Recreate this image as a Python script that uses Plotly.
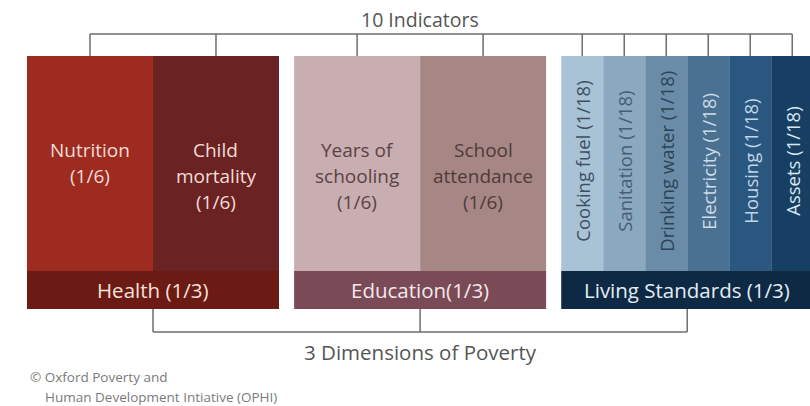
import plotly.graph_objects as go

# ---------------- data ----------------
dimensions = ["Health (1/3)", "Education(1/3)", "Living Standards (1/3)"]
dimension_weights = [1/3, 1/3, 1/3]

indicators = ["Nutrition", "Child mortality", "Years of schooling", "School attendance",
              "Cooking fuel", "Sanitation", "Drinking water", "Electricity", "Housing", "Assets"]
indicator_lines = [["Nutrition", "(1/6)"], ["Child", "mortality", "(1/6)"],
                   ["Years of", "schooling", "(1/6)"], ["School", "attendance", "(1/6)"],
                   ["Cooking fuel (1/18)"], ["Sanitation (1/18)"], ["Drinking water (1/18)"],
                   ["Electricity (1/18)"], ["Housing (1/18)"], ["Assets (1/18)"]]
indicator_weights = [1/6, 1/6, 1/6, 1/6, 1/18, 1/18, 1/18, 1/18, 1/18, 1/18]
indicator_dimension = [0, 0, 1, 1, 2, 2, 2, 2, 2, 2]

top_title = "10 Indicators"
bottom_title = "3 Dimensions of Poverty"
credit_lines = ["© Oxford Poverty and", "Human Development Intiative (OPHI)"]

# ---------------- styles ----------------
ind_colors = ["#9d2b20", "#6a2223", "#c9aeb1", "#a78785",
              "#a9c3d6", "#8aa8c0", "#6b8ca8", "#4b7192", "#2a5780", "#173f63"]
ind_text_colors = ["#f4dcd6", "#f4dcd6", "#5a4245", "#4f3a3b",
                   "#3d5063", "#465d72", "#2c4357", "#cddbe8", "#c3d5e6", "#dbe6ef"]
dim_colors = ["#6b1b14", "#7a4b56", "#0e2944"]
dim_text_colors = ["#f5e2dd", "#f5e8ea", "#e4edf5"]
line_color = "#6e6e6e"

GAP = 0.02          # gap between dimension blocks (weight units)
X0 = -0.0357        # left edge of view (weight units)
XSPAN = 810 / 756   # view width (weight units)
DIM_H = 38
IND_H = 215
Y_MIN, Y_MAX = -97, 309

# positions from weights
dim_left = []
pos = 0.0
for w in dimension_weights:
    dim_left.append(pos)
    pos += w + GAP
dim_center = [l + w / 2 for l, w in zip(dim_left, dimension_weights)]

ind_center = []
cursor = {i: dim_left[i] for i in range(len(dimensions))}
for w, d in zip(indicator_weights, indicator_dimension):
    ind_center.append(cursor[d] + w / 2)
    cursor[d] += w

fig = go.Figure()
fig.add_trace(go.Bar(x=dim_center, y=[DIM_H] * 3, base=[0] * 3, width=dimension_weights,
                     marker=dict(color=dim_colors, line=dict(width=0)), hoverinfo="skip"))
fig.add_trace(go.Bar(x=ind_center, y=[IND_H] * len(indicators), base=[DIM_H] * len(indicators),
                     width=indicator_weights,
                     marker=dict(color=ind_colors, line=dict(width=0)), hoverinfo="skip"))

FONT = "Open Sans"
ann = []
# indicator labels
for i, lines in enumerate(indicator_lines):
    if indicator_weights[i] < 0.1:
        ann.append(dict(x=ind_center[i], y=DIM_H + IND_H / 2 + 2, text=lines[0], textangle=-90,
                        showarrow=False, font=dict(family=FONT, size=18.5, color=ind_text_colors[i]),
                        xanchor="center", yanchor="middle"))
    else:
        for k, t in enumerate(lines):
            ann.append(dict(x=ind_center[i], y=159 - 26 * k, text=t, showarrow=False,
                            font=dict(family=FONT, size=19, color=ind_text_colors[i]),
                            xanchor="center", yanchor="middle"))
# dimension labels
for i, t in enumerate(dimensions):
    ann.append(dict(x=dim_center[i], y=DIM_H / 2, text=t, showarrow=False,
                    font=dict(family=FONT, size=20.5, color=dim_text_colors[i]),
                    xanchor="center", yanchor="middle"))
# titles
ann.append(dict(x=dim_center[1], y=290, text=top_title, showarrow=False,
                font=dict(family=FONT, size=19.5, color="#555555"), xanchor="center", yanchor="middle"))
ann.append(dict(x=dim_center[1], y=-43, text=bottom_title, showarrow=False,
                font=dict(family=FONT, size=20.5, color="#555555"), xanchor="center", yanchor="middle"))
ann.append(dict(x=X0 + 28 / 756, y=-68, text=credit_lines[0], showarrow=False,
                font=dict(family=FONT, size=13.5, color="#7a7a7a"), xanchor="left", yanchor="middle"))
ann.append(dict(x=X0 + 43 / 756, y=-88, text=credit_lines[1], showarrow=False,
                font=dict(family=FONT, size=13.5, color="#7a7a7a"), xanchor="left", yanchor="middle"))

# brackets
shapes = []
TOP_Y = DIM_H + IND_H + 22
shapes.append(dict(type="line", x0=ind_center[0], x1=ind_center[-1], y0=TOP_Y, y1=TOP_Y,
                   line=dict(color=line_color, width=1.5)))
for c in ind_center:
    shapes.append(dict(type="line", x0=c, x1=c, y0=TOP_Y, y1=DIM_H + IND_H,
                       line=dict(color=line_color, width=1.5)))
BOT_Y = -23
shapes.append(dict(type="line", x0=dim_center[0], x1=dim_center[-1], y0=BOT_Y, y1=BOT_Y,
                   line=dict(color=line_color, width=1.5)))
for c in dim_center:
    shapes.append(dict(type="line", x0=c, x1=c, y0=BOT_Y, y1=0,
                       line=dict(color=line_color, width=1.5)))

fig.update_layout(
    width=810, height=406, margin=dict(l=0, r=0, t=0, b=0),
    paper_bgcolor="white", plot_bgcolor="white", showlegend=False,
    barmode="overlay", annotations=ann, shapes=shapes,
    xaxis=dict(range=[X0, X0 + XSPAN], visible=False, fixedrange=True),
    yaxis=dict(range=[Y_MIN, Y_MAX], visible=False, fixedrange=True),
)
fig.write_html("out.html", config={"displayModeBar": False},
               post_script="document.body.style.margin='0';document.body.style.overflow='hidden';")
